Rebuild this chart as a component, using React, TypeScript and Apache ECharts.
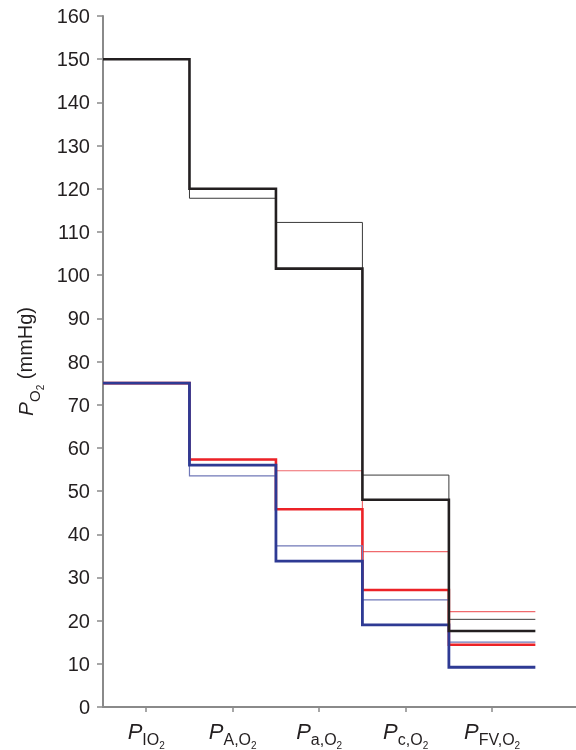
import React, { useEffect, useRef } from 'react';
import * as echarts from 'echarts';

// Category labels (subscript parts of P)
const categorySubs = ['IO', 'A,O', 'a,O', 'c,O', 'FV,O'];
const categoryPositions = [1, 2, 3, 4, 5];

// PO2 values (mmHg) at each stage
const blackThick = [150, 120, 101.5, 48, 17.6];
const blackThin = [150, 117.8, 112.2, 53.7, 20.3];
const redThick = [75, 57.3, 45.8, 27.1, 14.4];
const redThin = [75, 57.3, 54.7, 36, 22.1];
const blueThick = [75, 56, 33.8, 19, 9.2];
const blueThin = [75, 53.5, 37.3, 24.8, 15.0];

const BLACK = '#231f20';
const RED = '#ec2227';
const BLUE = '#2e3a94';
const BLACK_THIN = '#3a3a3a';
const RED_THIN = '#f06a6d';
const BLUE_THIN = '#7078b8';
const AXIS = '#8a8a8a';
const FONT = '"Liberation Sans", Arial, Helvetica, sans-serif';

function steps(values: number[]) {
  const pts: number[][] = [];
  values.forEach((v, i) => {
    pts.push([categoryPositions[i] - 0.5, v]);
    pts.push([categoryPositions[i] + 0.5, v]);
  });
  return pts;
}

function lineSeries(name: string, values: number[], color: string, width: number) {
  return {
    name,
    type: 'line',
    data: steps(values),
    symbol: 'none',
    showSymbol: false,
    silent: true,
    lineStyle: { color, width, cap: 'butt', join: 'miter' },
  };
}

export default function App() {
  const ref = useRef<HTMLDivElement>(null);
  useEffect(() => {
    if (!ref.current) return;
    const chart = echarts.init(ref.current, null, { renderer: 'svg' });
    chart.setOption({
      animation: false,
      grid: { left: 103, right: 0, top: 16, bottom: 42, containLabel: false },
      xAxis: {
        type: 'value',
        min: 0.5,
        max: 5.97,
        splitLine: { show: false },
        axisLine: { show: true, lineStyle: { color: AXIS, width: 2 } },
        axisTick: { show: true, customValues: categoryPositions, length: 5, lineStyle: { color: AXIS, width: 1.5 } },
        axisLabel: {
          customValues: categoryPositions,
          margin: 13,
          formatter: (v: number) => {
            const s = categorySubs[Math.round(v) - 1] ?? '';
            return `{p|P}{s|${s}}{ss|2}`;
          },
          rich: {
            p: { fontFamily: FONT, fontSize: 22, fontStyle: 'italic', color: BLACK, lineHeight: 26, verticalAlign: 'top' },
            s: { fontFamily: FONT, fontSize: 16, color: BLACK, lineHeight: 16, padding: [11, 0, 0, 0], verticalAlign: 'top' },
            ss: { fontFamily: FONT, fontSize: 10, color: BLACK, lineHeight: 10, padding: [20, 0, 0, 0], verticalAlign: 'top' },
          },
        },
      },
      yAxis: {
        type: 'value',
        min: 0,
        max: 160,
        interval: 10,
        splitLine: { show: false },
        axisLine: { show: true, lineStyle: { color: AXIS, width: 2 } },
        axisTick: { show: true, length: 6, lineStyle: { color: AXIS, width: 1.5 } },
        axisLabel: { fontFamily: FONT, fontSize: 20, color: BLACK, margin: 13 },
        name: '{p|P}{s|O}{ss|2}{t| (mmHg)}',
        nameLocation: 'middle',
        nameRotate: 90,
        nameGap: 58,
        nameTextStyle: {
          rich: {
            p: { fontFamily: FONT, fontSize: 21, fontStyle: 'italic', color: BLACK, lineHeight: 24, verticalAlign: 'top' },
            s: { fontFamily: FONT, fontSize: 15, color: BLACK, lineHeight: 15, padding: [12, 0, 0, 0], verticalAlign: 'top' },
            ss: { fontFamily: FONT, fontSize: 10, color: BLACK, lineHeight: 10, padding: [21, 0, 0, 0], verticalAlign: 'top' },
            t: { fontFamily: FONT, fontSize: 20, color: BLACK, lineHeight: 24, verticalAlign: 'top' },
          },
        },
      },
      series: [
        lineSeries('redThin', redThin, RED_THIN, 1.2),
        lineSeries('redThick', redThick, RED, 2.6),
        lineSeries('blueThin', blueThin, BLUE_THIN, 1.2),
        lineSeries('blueThick', blueThick, BLUE, 2.8),
        lineSeries('blackThin', blackThin, BLACK_THIN, 1),
        lineSeries('blackThick', blackThick, BLACK, 2.6),
      ],
    });
    return () => chart.dispose();
  }, []);
  return <div ref={ref} style={{ position: 'fixed', left: 0, top: 0, width: 576, height: 750 }} />;
}
